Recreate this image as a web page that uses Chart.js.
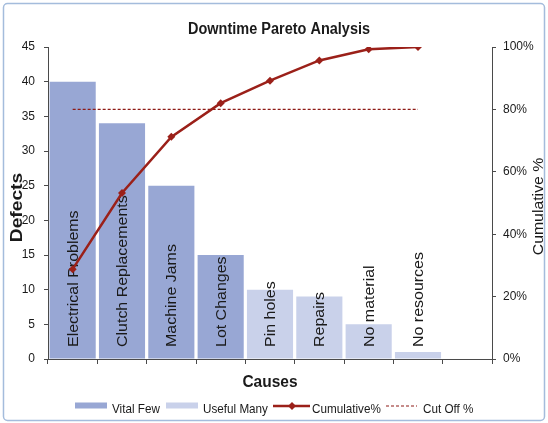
<!DOCTYPE html>
<html>
<head>
<meta charset="utf-8">
<title>Downtime Pareto Analysis</title>
<script src="https://cdn.jsdelivr.net/npm/chart.js@4.4.1/dist/chart.umd.min.js"></script>
<style>
  html, body { margin: 0; padding: 0; background: #fff; }
  #wrap { width: 548px; height: 423px; position: relative; }
</style>
</head>
<body>
<div id="wrap"><canvas id="pareto"></canvas></div>
<script>
// defect counts per cause, split into the "vital few" and the "useful many"
const causes = ['Electrical Problems', 'Clutch Replacements', 'Machine Jams', 'Lot Changes',
                'Pin holes', 'Repairs', 'No material', 'No resources', ''];
const vitalFew = [40, 34, 25, 15, null, null, null, null, null];
const usefulMany = [null, null, null, null, 10, 9, 5, 1, null];
const cumulativePct = [28.8, 53.2, 71.2, 82.0, 89.2, 95.7, 99.3, 100, null];
const cutOffPct = [80, 80, 80, 80, 80, 80, 80, 80, null];

const FONT = "'Liberation Sans', Arial, sans-serif";
const vitalColor = '#98a7d4';
const usefulColor = '#c9d1ea';
const lineColor = '#9b2019';
const cutColor = '#8e1b16';
const axisColor = '#4a4a4a';
const textColor = '#1a1a1a';

Chart.defaults.font.family = FONT;

// fillText with a stretch along the text direction and across it
function stretchedText(ctx, text, x, y, angle, sx, sy, align) {
    ctx.save();
    ctx.translate(x, y);
    ctx.rotate(angle);
    ctx.scale(sx, sy);
    ctx.textAlign = align || 'left';
    ctx.textBaseline = 'alphabetic';
    ctx.fillText(text, 0, 0);
    ctx.restore();
}

const paretoDecor = {
    id: 'paretoDecor',
    // cause names sit upright inside the bars, under the lines
    afterDatasetDraw(chart, args) {
        if (args.index !== 1) return;
        const ctx = chart.ctx;
        const x = chart.scales.x;
        const y0 = chart.scales.y.getPixelForValue(0);
        ctx.save();
        ctx.fillStyle = textColor;
        ctx.font = '14px ' + FONT;
        causes.forEach((name, i) => {
            if (!name) return;
            stretchedText(ctx, name, x.getPixelForValue(i) + 5, y0 - 12, -Math.PI / 2, 1.14, 1);
        });
        ctx.restore();
    },
    afterDraw(chart) {
        const ctx = chart.ctx;
        const area = chart.chartArea;
        ctx.save();
        ctx.fillStyle = textColor;

        // title and axis titles
        ctx.font = 'bold 14.5px ' + FONT;
        stretchedText(ctx, 'Downtime Pareto Analysis', 279, 33.5, 0, 1, 1.2, 'center');
        ctx.font = 'bold 15.5px ' + FONT;
        stretchedText(ctx, 'Causes', (area.left + area.right) / 2, 386.5, 0, 1, 1.05, 'center');
        ctx.font = 'bold 16px ' + FONT;
        stretchedText(ctx, 'Defects', 22, 207.5, -Math.PI / 2, 1.2, 1, 'center');
        ctx.font = '14px ' + FONT;
        stretchedText(ctx, 'Cumulative %', 543, 206.5, -Math.PI / 2, 1.13, 1, 'center');

        // legend
        const ly = 406;
        ctx.font = '11.7px ' + FONT;
        ctx.fillStyle = vitalColor;
        ctx.fillRect(75, ly - 3.5, 32, 6);
        ctx.fillStyle = usefulColor;
        ctx.fillRect(166, ly - 3.5, 32, 6);

        ctx.strokeStyle = lineColor;
        ctx.lineWidth = 2.5;
        ctx.beginPath();
        ctx.moveTo(273, ly);
        ctx.lineTo(310, ly);
        ctx.stroke();
        ctx.fillStyle = lineColor;
        ctx.beginPath();
        ctx.moveTo(292, ly - 4);
        ctx.lineTo(296, ly);
        ctx.lineTo(292, ly + 4);
        ctx.lineTo(288, ly);
        ctx.closePath();
        ctx.fill();

        ctx.strokeStyle = cutColor;
        ctx.lineWidth = 1.2;
        ctx.setLineDash([3, 2]);
        ctx.beginPath();
        ctx.moveTo(386, ly);
        ctx.lineTo(417, ly);
        ctx.stroke();
        ctx.setLineDash([]);

        ctx.fillStyle = textColor;
        stretchedText(ctx, 'Vital Few', 112, 413, 0, 1, 1.08);
        stretchedText(ctx, 'Useful Many', 203, 413, 0, 1, 1.08);
        stretchedText(ctx, 'Cumulative%', 312, 413, 0, 1, 1.08);
        stretchedText(ctx, 'Cut Off %', 423, 413, 0, 1, 1.08);

        // frame round the whole chart
        ctx.strokeStyle = '#a4bcdc';
        ctx.lineWidth = 1.5;
        ctx.beginPath();
        ctx.roundRect(3.5, 3.5, 541, 417, 4);
        ctx.stroke();
        ctx.restore();
    }
};

const axisGrid = { drawOnChartArea: false, drawTicks: true, tickLength: 4, color: axisColor };

new Chart(document.getElementById('pareto'), {
    type: 'bar',
    data: {
        labels: causes,
        datasets: [{
            label: 'Vital Few',
            data: vitalFew,
            backgroundColor: vitalColor,
            barPercentage: 0.935,
            categoryPercentage: 1,
            order: 3
        }, {
            label: 'Useful Many',
            data: usefulMany,
            backgroundColor: usefulColor,
            barPercentage: 0.935,
            categoryPercentage: 1,
            order: 2
        }, {
            type: 'line',
            label: 'Cumulative%',
            data: cumulativePct,
            yAxisID: 'y1',
            borderColor: lineColor,
            backgroundColor: lineColor,
            borderWidth: 2.5,
            pointStyle: 'rectRot',
            pointRadius: 4,
            pointBorderWidth: 0,
            tension: 0,
            order: 0
        }, {
            type: 'line',
            label: 'Cut Off %',
            data: cutOffPct,
            yAxisID: 'y1',
            borderColor: cutColor,
            borderWidth: 1.2,
            borderDash: [3, 2],
            pointRadius: 0,
            order: 1
        }]
    },
    options: {
        responsive: true,
        maintainAspectRatio: false,
        animation: false,
        layout: { padding: { top: 47, left: 0, right: 0, bottom: 0 } },
        plugins: {
            legend: { display: false },
            title: { display: false },
            tooltip: { enabled: false }
        },
        scales: {
            x: {
                stacked: true,
                offset: true,
                ticks: { display: false },
                grid: { drawOnChartArea: false, drawTicks: true, tickLength: 5, color: axisColor, offset: true },
                border: { color: axisColor },
                afterFit: s => { s.height = 64; }
            },
            y: {
                position: 'left',
                min: 0,
                max: 45,
                ticks: { stepSize: 5, padding: 9, color: textColor, font: { size: 12 } },
                grid: axisGrid,
                border: { color: axisColor },
                afterFit: s => { s.width = 48; }
            },
            y1: {
                position: 'right',
                min: 0,
                max: 100,
                ticks: { stepSize: 20, padding: 7, color: textColor, font: { size: 12 }, callback: v => v + '%' },
                grid: axisGrid,
                border: { color: axisColor },
                afterFit: s => { s.width = 56; }
            }
        }
    },
    plugins: [paretoDecor]
});
</script>
</body>
</html>
